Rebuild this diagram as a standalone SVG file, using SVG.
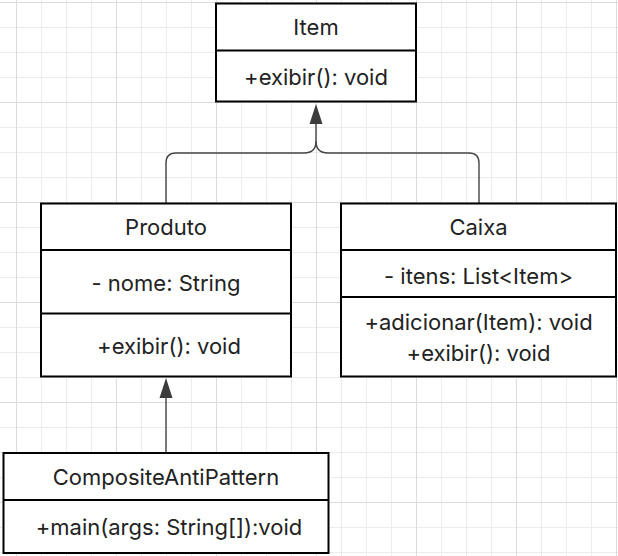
<svg xmlns="http://www.w3.org/2000/svg" width="618" height="556" viewBox="0 0 618 556">
<defs>
<pattern id="minor" width="25" height="25" patternUnits="userSpaceOnUse" x="16" y="2">
<path d="M0.5 0V25M0 0.5H25" fill="none" stroke="#ececec" stroke-width="1"/>
</pattern>
<pattern id="major" width="100" height="100" patternUnits="userSpaceOnUse" x="16" y="2">
<path d="M0.5 0V100M0 0.5H100" fill="none" stroke="#dcdcdc" stroke-width="1"/>
</pattern>
</defs>
<style>
.box{fill:#fff;stroke:#000;stroke-width:2}
.div{stroke:#000;stroke-width:2}
.t{font-family:Inter,"Liberation Sans",sans-serif;font-size:22px;fill:#222;text-anchor:middle;dominant-baseline:central}
.c{fill:none;stroke:#444;stroke-width:1.4}
.ah{fill:#3c3c3c}
</style>
<rect width="618" height="556" fill="#fff"/>
<rect width="618" height="556" fill="url(#minor)"/>
<rect width="618" height="556" fill="url(#major)"/>
<g id="connectors">
<path class="c" d="M166 203V163Q166 153 176 153H304Q316 153 316 141V124"/>
<path class="c" d="M479 203V163Q479 153 469 153H328Q316 153 316 141"/>
<path class="ah" d="M316 104L322.5 124H309.5Z"/>
<path class="c" d="M166 453V398"/>
<path class="ah" d="M166 378L172.5 398H159.5Z"/>
</g>
<g id="Item">
<rect class="box" x="216" y="3.5" width="200" height="98"/>
<line class="div" x1="216" y1="50.5" x2="416" y2="50.5"/>
<text class="t" x="316" y="27">Item</text>
<text class="t" x="316" y="77">+exibir(): void</text>
</g>
<g id="Produto">
<rect class="box" x="41" y="203.5" width="250" height="173"/>
<line class="div" x1="41" y1="250" x2="291" y2="250"/>
<line class="div" x1="41" y1="313.5" x2="291" y2="313.5"/>
<text class="t" x="166" y="227">Produto</text>
<text class="t" x="166" y="283">- nome: String</text>
<text class="t" x="169" y="346">+exibir(): void</text>
</g>
<g id="Caixa">
<rect class="box" x="341" y="203.5" width="275" height="173"/>
<line class="div" x1="341" y1="250" x2="616" y2="250"/>
<line class="div" x1="341" y1="297" x2="616" y2="297"/>
<text class="t" x="478.5" y="227">Caixa</text>
<text class="t" x="478.5" y="276">- itens: List&lt;Item&gt;</text>
<text class="t" x="478.5" y="322">+adicionar(Item): void</text>
<text class="t" x="478.5" y="353">+exibir(): void</text>
</g>
<g id="CompositeAntiPattern">
<rect class="box" x="3.5" y="453" width="325" height="100"/>
<line class="div" x1="3.5" y1="500" x2="328.5" y2="500"/>
<text class="t" x="166" y="477">CompositeAntiPattern</text>
<text class="t" x="169" y="527">+main(args: String[]):void</text>
</g>
</svg>
